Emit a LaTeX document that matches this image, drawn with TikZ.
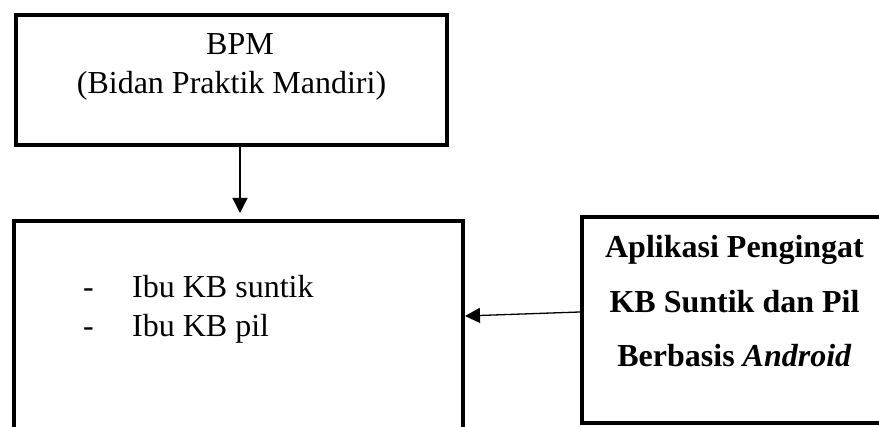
\documentclass[tikz,border=0pt]{standalone}
\usepackage{fontspec}
\setmainfont{Liberation Serif}
\usetikzlibrary{arrows.meta}
\begin{document}
\begin{tikzpicture}[x=1pt,y=1pt,
  boxx/.style={draw, line width=4pt, rectangle, inner sep=0pt},
  txt/.style={inner sep=0pt, font=\fontsize{32}{37}\selectfont},
  arr/.style={line width=1.3pt, -{Triangle[length=15pt,width=15pt]}}]
\useasboundingbox (0,0) rectangle (879,427);
\clip (0,0) rectangle (879,427);
\node[boxx, minimum width=431pt, minimum height=130pt] (top) at (231.5,347) {};
\node[boxx, minimum width=449.5pt, minimum height=226pt] (bl) at (238.25,93) {};
\node[boxx, minimum width=308pt, minimum height=206pt] (rt) at (736,107) {};
\node[txt, anchor=base] (t1) at (240,372) {BPM};
\node[txt, anchor=base] (t2) at (231.5,333) {(Bidan Praktik Mandiri)};
\node[txt, anchor=base west] (d1) at (83,129) {-};
\node[txt, anchor=base west] (d2) at (83,90) {-};
\node[txt, anchor=base west] (l1) at (132,129) {Ibu KB suntik};
\node[txt, anchor=base west] (l2) at (132,90) {Ibu KB pil};
\node[txt, anchor=base, font=\fontsize{32}{37}\selectfont\bfseries] (r1) at (734.5,169) {Aplikasi Pengingat};
\node[txt, anchor=base, font=\fontsize{32}{37}\selectfont\bfseries] (r2) at (734.5,114) {KB Suntik dan Pil};
\node[txt, anchor=base, font=\fontsize{32}{37}\selectfont\bfseries] (r3) at (734.5,60) {Berbasis \textit{Android}};
\coordinate (ax) at (240,0);
\coordinate (ay1) at (0,115);
\coordinate (ay2) at (0,111);
\draw[arr] (top.south -| ax) -- ([yshift=6pt]bl.north -| ax);
\draw[arr] (rt.west |- ay1) -- (bl.east |- ay2);
\end{tikzpicture}
\end{document}
